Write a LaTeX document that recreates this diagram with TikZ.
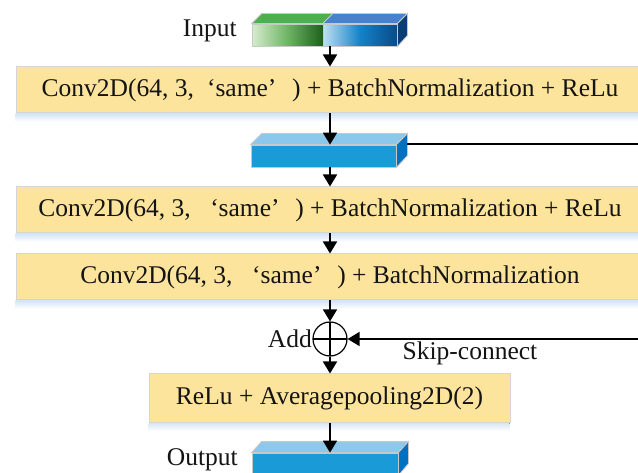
\documentclass[tikz,border=0pt]{standalone}
\usepackage{fontspec}
\setmainfont{Liberation Serif}
\usetikzlibrary{arrows.meta,calc}

\definecolor{boxfill}{RGB}{253,228,156}
\definecolor{boxline}{RGB}{214,214,208}
\definecolor{haze}{RGB}{214,230,246}
\definecolor{cubefront}{RGB}{26,155,215}
\definecolor{cubetop}{RGB}{140,200,235}
\definecolor{cubeside}{RGB}{0,112,192}
\definecolor{cubeedge}{RGB}{200,200,200}
\definecolor{greenL}{RGB}{214,236,206}
\definecolor{greenM}{RGB}{110,180,100}
\definecolor{greenD}{RGB}{28,95,28}
\definecolor{greenTop}{RGB}{76,175,80}
\definecolor{blueL}{RGB}{192,222,242}
\definecolor{blueM}{RGB}{20,130,200}
\definecolor{blueD}{RGB}{10,75,135}
\definecolor{blueTop}{RGB}{70,130,205}
\definecolor{blueSide}{RGB}{10,60,120}
\definecolor{ink}{RGB}{20,20,20}

% full-width style quotation marks
\newcommand\fwl{\makebox[0.85em][r]{‘}}
\newcommand\fwr{\makebox[0.95em][l]{’}}

\begin{document}
\begin{tikzpicture}[x=1pt,y=-1pt,
  layer/.style={draw=boxline, line width=1pt, fill=boxfill, inner sep=0pt,
    minimum height=46pt, text=ink, font=\fontsize{25.5}{29}\selectfont},
  label/.style={text=ink, inner sep=0pt, font=\fontsize{25.5}{29}\selectfont},
  flow/.style={-{Triangle[length=12pt,width=14pt]}, line width=1.7pt, draw=black},
  cube/.style={draw=cubeedge, line width=0.8pt, inner sep=0pt, minimum height=22pt},
  adder/.style={circle, draw=black, line width=1.2pt, minimum size=34pt, inner sep=0pt,
    path picture={
      \draw[line width=1.2pt] (path picture bounding box.north) -- (path picture bounding box.south);
      \draw[line width=1.2pt] (path picture bounding box.west) -- (path picture bounding box.east);}}
]
\useasboundingbox (0,0) rectangle (638,473);
\clip (0,0) rectangle (638,473);
\fill[white] (0,0) rectangle (638,473);

% ---- input tensor (two halves) ----
\node[cube, minimum width=71pt, left color=greenL, right color=greenD, middle color=greenM] (inG) at (287.5,35) {};
\node[cube, minimum width=74pt, left color=blueL, right color=blueD, middle color=blueM] (inB) at (360,35) {};
\filldraw[fill=greenTop, draw=cubeedge, line width=0.8pt] (inG.north west) -- ++(10,-10) -- ($(inG.north east)+(10,-10)$) -- (inG.north east) -- cycle;
\filldraw[fill=blueTop, draw=cubeedge, line width=0.8pt] (inB.north west) -- ++(10,-10) -- ($(inB.north east)+(10,-10)$) -- (inB.north east) -- cycle;
\filldraw[fill=blueSide, draw=cubeedge, line width=0.8pt] (inB.north east) -- ++(10,-10) -- ++(0,22) -- (inB.south east) -- cycle;
\node[label, anchor=east] (lin) at (237,31) {Input};

% ---- layers ----
\node[layer, minimum width=628pt] (b1) at (330,90)
  {Conv2D(64, 3,\fwl same\fwr) + BatchNormalization + ReLu};
\fill[top color=haze, bottom color=white] ($(b1.south west)+(0,0.5)$) rectangle ++(628,8);

% intermediate tensor
\node[cube, fill=cubefront, minimum width=145pt] (mid) at (323.5,156) {};
\filldraw[fill=cubetop, draw=cubeedge, line width=0.8pt] (mid.north west) -- ++(11,-11) -- ($(mid.north east)+(11,-11)$) -- (mid.north east) -- cycle;
\filldraw[fill=cubeside, draw=cubeedge, line width=0.8pt] (mid.north east) -- ++(11,-11) -- ++(0,22) -- (mid.south east) -- cycle;

\node[layer, minimum width=628pt] (b2) at (330,210)
  {Conv2D(64, 3, \fwl same\fwr) + BatchNormalization + ReLu};
\fill[top color=haze, bottom color=white] ($(b2.south west)+(0,0.5)$) rectangle ++(628,8);

\node[layer, minimum width=628pt] (b3) at (330,277)
  {Conv2D(64, 3, \fwl same\fwr) + BatchNormalization};
\fill[top color=haze, bottom color=white] ($(b3.south west)+(0,0.5)$) rectangle ++(628,8);

% ---- residual addition ----
\node[adder] (add) at (330,339) {};
\node[label, anchor=east] (ladd) at (312,339) {Add};
\node[label] (lskip) at (470,353) {Skip-connect};

\node[layer, minimum width=361pt, minimum height=48pt] (b4) at (329.5,398)
  {ReLu + Averagepooling2D(2)};
\fill[top color=haze, bottom color=white] ($(b4.south west)+(0,0.5)$) rectangle ++(361,8);

% ---- output tensor ----
\node[cube, fill=cubefront, minimum width=146pt] (out) at (325,464) {};
\filldraw[fill=cubetop, draw=cubeedge, line width=0.8pt] (out.north west) -- ++(10,-11) -- ($(out.north east)+(10,-11)$) -- (out.north east) -- cycle;
\filldraw[fill=cubeside, draw=cubeedge, line width=0.8pt] (out.north east) -- ++(10,-11) -- ++(0,22) -- (out.south east) -- cycle;
\node[label, anchor=east] (lout) at (238,460) {Output};

% ---- connectors ----
\coordinate (midside) at (407,144);
\coordinate (skipout) at (645,144);
\coordinate (skipin) at (645,339);
\draw[flow] (inB.south -| b1.north) -- (b1.north);
\draw[flow] (b1.south) -- (b1.south |- mid.north);
\draw[flow] (b1.south |- mid.south) -- (b2.north);
\draw[flow] (b2.south) -- (b3.north);
\draw[flow] (b3.south) -- (add.north);
\draw[flow] (add.south) -- (add.south |- b4.north);
\draw[flow] (add.south |- b4.south) -- (add.south |- out.north);
\draw[line width=1.7pt] (midside) -- (skipout);
\draw[flow] (skipin) -- (add.east);
\end{tikzpicture}
\end{document}
